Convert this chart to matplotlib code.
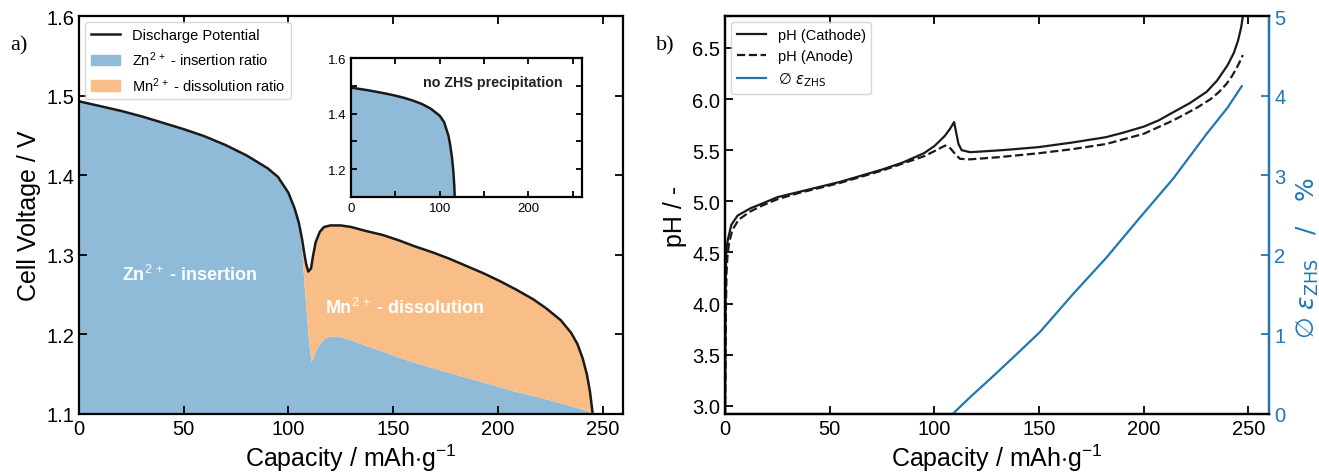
import matplotlib
matplotlib.use("Agg")
import matplotlib.pyplot as plt
from matplotlib.patches import Patch
from matplotlib.lines import Line2D
from matplotlib.font_manager import FontProperties

plt.rcParams['font.family'] = ['Liberation Sans', 'DejaVu Sans']
plt.rcParams['mathtext.fontset'] = 'custom'
plt.rcParams['mathtext.rm'] = 'Liberation Sans'
plt.rcParams['mathtext.it'] = 'Liberation Sans:italic'
plt.rcParams['mathtext.bf'] = 'Liberation Sans:bold'

# ---- data: panel a) discharge curve ----
cap = [0, 10, 20, 30, 40, 50, 60, 70, 80, 90, 95, 100, 103, 105, 106.5, 107.5, 108.5,
       109.5, 110.8, 111.7, 113, 115, 117, 120, 125, 130, 137, 145, 153, 160, 169,
       177, 185, 193, 201, 209, 217, 223, 230, 235, 238, 240.5, 242.5, 244, 245.3]
volt = [1.493, 1.487, 1.481, 1.474, 1.466, 1.458, 1.449, 1.438, 1.425, 1.409, 1.398,
        1.378, 1.358, 1.340, 1.320, 1.303, 1.288, 1.279, 1.283, 1.298, 1.316, 1.329,
        1.335, 1.337, 1.337, 1.335, 1.330, 1.325, 1.318, 1.311, 1.303, 1.295, 1.286,
        1.277, 1.267, 1.256, 1.244, 1.233, 1.218, 1.202, 1.188, 1.170, 1.150, 1.128,
        1.100]
# upper edge of Zn2+ insertion share
zn_edge = [1.493, 1.487, 1.481, 1.474, 1.466, 1.458, 1.449, 1.438, 1.425, 1.409, 1.398,
           1.378, 1.358, 1.340, 1.300, 1.262, 1.230, 1.195, 1.166, 1.170, 1.180, 1.189,
           1.195, 1.198, 1.197, 1.193, 1.186, 1.179, 1.171, 1.165, 1.158, 1.152, 1.146,
           1.140, 1.134, 1.128, 1.123, 1.119, 1.114, 1.110, 1.108, 1.106, 1.104, 1.102,
           1.100]

# inset: no ZHS precipitation
cap_in = [0, 10, 20, 30, 40, 50, 60, 70, 80, 90, 100, 105, 110, 112, 114, 115.5, 116.5, 117]
volt_in = [1.494, 1.489, 1.484, 1.478, 1.472, 1.465, 1.457, 1.447, 1.435, 1.418, 1.393,
           1.370, 1.320, 1.285, 1.240, 1.190, 1.140, 1.100]

# ---- data: panel b) pH and ZHS ----
cap_c = [0, 0.1, 0.2, 0.35, 0.6, 1.4, 3, 6, 12, 18, 25, 35, 45, 55, 65, 75, 85, 95,
         100, 105, 107.5, 109.4, 110.5, 111.5, 113, 117, 125, 134.5, 150, 166, 182,
         190, 200, 207, 214, 222, 230, 235, 240, 243, 245, 246.5, 247.4]
ph_cath = [2.9, 3.3, 3.9, 4.3, 4.53, 4.63, 4.77, 4.86, 4.93, 4.98, 5.04, 5.09, 5.14,
           5.19, 5.25, 5.31, 5.38, 5.47, 5.54, 5.64, 5.71, 5.774, 5.66, 5.56, 5.50,
           5.48, 5.49, 5.503, 5.53, 5.575, 5.627, 5.67, 5.73, 5.79, 5.87, 5.96, 6.07,
           6.18, 6.33, 6.45, 6.57, 6.70, 6.82]
cap_a = [0, 0.2, 0.4, 0.7, 1.2, 2, 3.5, 6.5, 12, 18, 25, 35, 45, 55, 65, 75, 85, 95,
         100, 105.1, 107.5, 110, 112.2, 117, 130, 150, 166, 182, 200, 214, 225, 232,
         236, 239.6, 242, 244, 246, 247.3]
ph_anod = [2.9, 3.3, 3.9, 4.3, 4.48, 4.6, 4.72, 4.82, 4.90, 4.96, 5.02, 5.08, 5.13,
           5.18, 5.24, 5.30, 5.37, 5.44, 5.49, 5.545, 5.52, 5.46, 5.415, 5.41, 5.43,
           5.47, 5.51, 5.56, 5.66, 5.79, 5.91, 6.0, 6.07, 6.15, 6.22, 6.29, 6.37, 6.43]
cap_z = [0, 50, 100, 108.7, 117, 126.6, 138, 150.4, 166.3, 182.3, 198.2, 214.1, 230,
         240, 246.8]
eps_zhs = [0, 0, 0, 0, 0.21, 0.44, 0.72, 1.03, 1.51, 1.97, 2.47, 2.96, 3.52, 3.85, 4.12]

blue = '#1f77b4'
fill_blue = '#8fbbd9'
fill_orange = '#f9be87'


def style_ax(ax, size=14.5, length=6):
    ax.tick_params(which='both', direction='in', top=True, right=True,
                   length=length, width=1.3, labelsize=size)
    for s in ax.spines.values():
        s.set_linewidth(1.6)


fig = plt.figure(figsize=(13.19, 4.77), dpi=100)

# ---------------- a) ----------------
ax1 = fig.add_axes([0.0599, 0.130, 0.4128, 0.834])
ax1.fill_between(cap, 1.1, zn_edge, color=fill_blue, lw=0)
ax1.fill_between(cap, zn_edge, volt, color=fill_orange, lw=0)
ax1.plot(cap, volt, color='#1a1a1a', lw=1.8)
ax1.set_xlim(0, 260)
ax1.set_ylim(1.1, 1.6)
ax1.set_xticks([0, 50, 100, 150, 200, 250])
ax1.set_yticks([1.1, 1.2, 1.3, 1.4, 1.5, 1.6])
style_ax(ax1)
ax1.set_xlabel('Capacity / mAh$\\cdot$g$^{-1}$', fontsize=18, labelpad=3)
ax1.set_ylabel('Cell Voltage / V', fontsize=18)
ax1.text(20.5, 1.276, 'Zn$^{2\\,+}$ - insertion', color='white',
         fontsize=13, fontweight='bold', va='center')
ax1.text(117.5, 1.234, 'Mn$^{2\\,+}$ - dissolution', color='white',
         fontsize=13, fontweight='bold', va='center')
handles = [Line2D([], [], color='#1a1a1a', lw=1.8),
           Patch(color=fill_blue), Patch(color=fill_orange)]
ax1.legend(handles, ['Discharge Potential', 'Zn$^{2\\,+}$ - insertion ratio',
                     'Mn$^{2\\,+}$ - dissolution ratio'],
           loc='upper left', fontsize=10.5, borderaxespad=0.4)

# inset
axi = fig.add_axes([0.266, 0.585, 0.175, 0.291])
axi.fill_between(cap_in, 1.1, volt_in, color=fill_blue, lw=0)
axi.plot(cap_in, volt_in, color='#1a1a1a', lw=1.8)
axi.set_xlim(0, 260)
axi.set_ylim(1.1, 1.6)
axi.set_xticks([0, 100, 200])
axi.set_xticks([50, 150, 250], minor=True)
axi.set_yticks([1.2, 1.4, 1.6])
axi.set_yticks([1.3, 1.5], minor=True)
style_ax(axi, size=9.5, length=4)
axi.tick_params(which='minor', length=4, width=1.3)
axi.text(0.918, 0.83, 'no ZHS precipitation', transform=axi.transAxes,
         ha='right', va='center', fontsize=10.3, fontweight='bold', color='#222222')

# ---------------- b) ----------------
ax2 = fig.add_axes([0.5497, 0.130, 0.4127, 0.834])
ax2.plot(cap_c, ph_cath, color='#1a1a1a', lw=1.6, label='pH (Cathode)')
ax2.plot(cap_a, ph_anod, color='#1a1a1a', lw=1.6, ls='--', label='pH (Anode)')
ax2.set_xlim(0, 260)
ax2.set_ylim(2.92, 6.81)
ax2.set_xticks([0, 50, 100, 150, 200, 250])
ax2.set_yticks([3.0, 3.5, 4.0, 4.5, 5.0, 5.5, 6.0, 6.5])
style_ax(ax2)
ax2.tick_params(right=False)
ax2.set_xlabel('Capacity / mAh$\\cdot$g$^{-1}$', fontsize=18, labelpad=3)
ax2.set_ylabel('pH / -', fontsize=18)

eps_label = '$\\emptyset\\ \\varepsilon_\\mathrm{ZHS}$'
ax3 = ax2.twinx()
ax3.plot(cap_z, eps_zhs, color=blue, lw=1.6, label=eps_label)
ax3.set_ylim(0, 5)
ax3.set_yticks([0, 1, 2, 3, 4, 5])
ax3.tick_params(direction='in', length=6, width=1.3, labelsize=14.5,
                colors=blue)
for s in ax3.spines.values():
    s.set_linewidth(1.6)
ax3.spines['right'].set_color(blue)
ax3.set_ylabel('$\\emptyset\\ \\varepsilon_\\mathrm{ZHS}\\quad/\\quad\\%$', fontsize=18,
               color=blue, math_fontfamily='dejavusans')
ax3.yaxis.set_label_coords(1.046, 0.394)

h2, l2 = ax2.get_legend_handles_labels()
h3, l3 = ax3.get_legend_handles_labels()
ax2.legend(h2 + h3, l2 + l3, loc='upper left', borderaxespad=0.4,
           prop=FontProperties(family=['Liberation Sans', 'DejaVu Sans'], size=10.5,
                               math_fontfamily='dejavusans'))

# panel labels
fig.text(0.008, 0.895, 'a)', fontsize=16, family='Liberation Serif')
fig.text(0.497, 0.895, 'b)', fontsize=16, family='Liberation Serif')

fig.savefig('out.png', dpi=100)
